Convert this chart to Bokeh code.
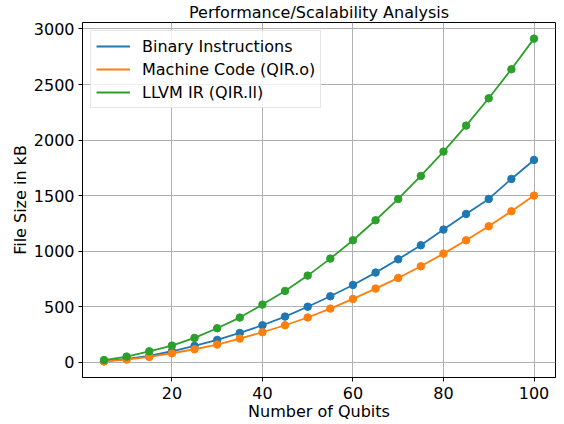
from bokeh.plotting import figure
from bokeh.models import Range1d, FixedTicker, Legend, LegendItem
from bokeh.embed import file_html
from bokeh.resources import INLINE

qubits = [5, 10, 15, 20, 25, 30, 35, 40, 45, 50, 55, 60, 65, 70, 75, 80, 85, 90, 95, 100]
binary = [9, 30, 57, 99, 147, 201, 264, 333, 411, 500, 594, 696, 807, 927, 1053, 1194, 1335, 1470, 1650, 1821]
machine = [8, 24, 48, 81, 117, 159, 213, 270, 333, 403, 483, 570, 663, 759, 864, 978, 1098, 1224, 1359, 1500]
llvm = [20, 51, 99, 150, 219, 306, 402, 519, 642, 780, 933, 1098, 1278, 1470, 1677, 1896, 2130, 2376, 2637, 2913]

series_names = ["Binary Instructions", "Machine Code (QIR.o)", "LLVM IR (QIR.ll)"]
series_colors = ["#1f77b4", "#ff7f0e", "#2ca02c"]
x_ticks = [20, 40, 60, 80, 100]
y_ticks = [0, 500, 1000, 1500, 2000, 2500, 3000]

FONT = "DejaVu Sans"

xmin, xmax = min(qubits), max(qubits)
allv = binary + machine + llvm
ymin, ymax = min(allv), max(allv)
xm = (xmax - xmin) * 0.05
ym = (ymax - ymin) * 0.05

p = figure(frame_width=473, frame_height=355, output_backend="svg", toolbar_location=None,
           x_range=Range1d(xmin - xm, xmax + xm), y_range=Range1d(ymin - ym, ymax + ym),
           min_border_left=82, min_border_right=1, min_border_top=0, min_border_bottom=2,
           title="Performance/Scalability Analysis")

p.title.align = "center"
p.title.text_font = FONT
p.title.text_font_size = "16px"
p.title.text_font_style = "normal"
p.title.text_color = "black"
p.title.standoff = 1

p.outline_line_color = "black"
p.outline_line_width = 1
p.outline_line_alpha = 1

for ax in (p.xaxis[0], p.yaxis[0]):
    ax.axis_line_color = "black"
    ax.major_tick_line_color = "black"
    ax.major_tick_out = 4
    ax.major_tick_in = 0
    ax.minor_tick_line_color = None
    ax.major_label_text_font = FONT
    ax.major_label_text_font_size = "16px"
    ax.major_label_text_color = "black"
    ax.axis_label_text_font = FONT
    ax.axis_label_text_font_size = "16px"
    ax.axis_label_text_font_style = "normal"
    ax.axis_label_text_color = "black"

p.xaxis.ticker = FixedTicker(ticks=x_ticks)
p.yaxis.ticker = FixedTicker(ticks=y_ticks)
p.xaxis.axis_label = "Number of Qubits"
p.yaxis.axis_label = "File Size in kB"
p.xaxis.major_label_standoff = 5
p.xaxis.axis_label_standoff = 0
p.yaxis.major_label_standoff = 4
p.yaxis.axis_label_standoff = 1

p.grid.grid_line_color = "#b0b0b0"
p.grid.grid_line_width = 1

items = []
for name, vals, col in zip(series_names, [binary, machine, llvm], series_colors):
    r = p.line(qubits, vals, line_color=col, line_width=1.8)
    p.scatter(qubits, vals, marker="circle", size=7.5, fill_color=col, line_color=col)
    items.append(LegendItem(label=name, renderers=[r]))

legend = Legend(items=items, location="top_left")
legend.margin = 8
legend.padding = 5
legend.spacing = 3
legend.label_text_font = FONT
legend.label_text_font_size = "16px"
legend.label_text_color = "black"
legend.glyph_width = 34
legend.glyph_height = 20
legend.label_height = 20
legend.label_standoff = 12
legend.border_line_color = "#cccccc"
legend.border_line_width = 1
legend.background_fill_alpha = 0.8
p.add_layout(legend, "center")

open("out.html", "w").write(file_html(p, INLINE))
